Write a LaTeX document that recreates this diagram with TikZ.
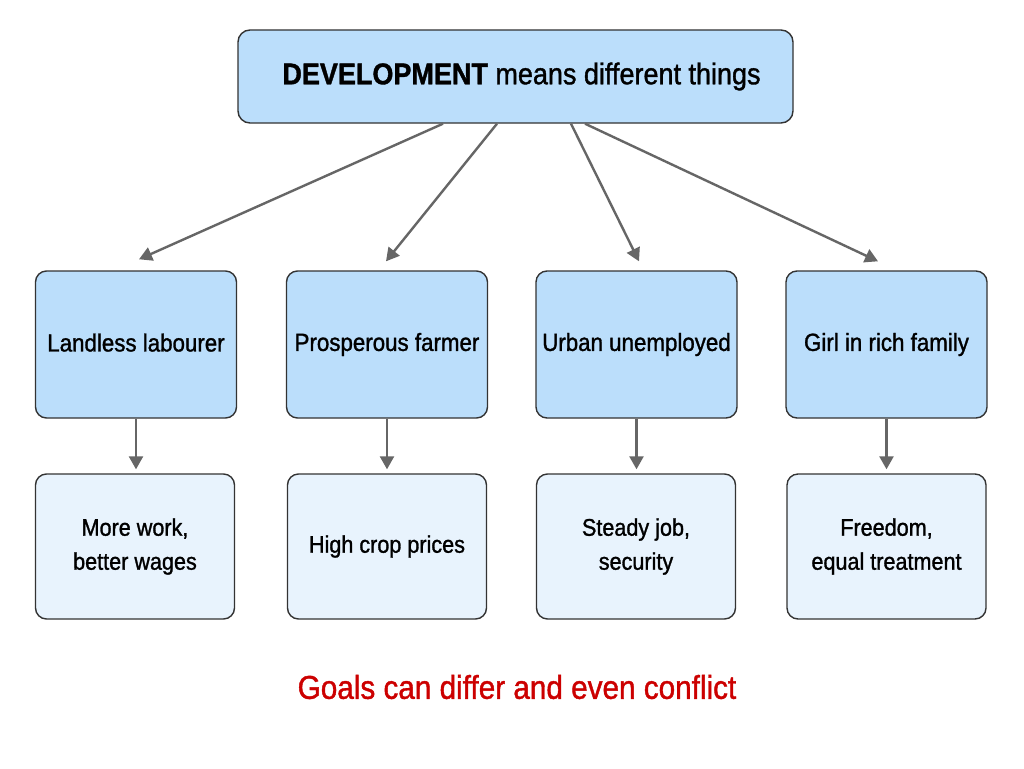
\documentclass[tikz,border=0pt]{standalone}
\usepackage{fontspec}
\setmainfont[FakeStretch=0.9,FakeBold=1.2]{Liberation Sans}
\usepackage{tikz}
\usetikzlibrary{arrows.meta,positioning,calc}
\definecolor{topblue}{HTML}{BBDEFB}
\definecolor{lowblue}{HTML}{E8F3FD}
\definecolor{edgegray}{HTML}{333333}
\definecolor{arrgray}{HTML}{666666}
\definecolor{goalred}{HTML}{CC0000}
\tikzset{
  headbox/.style={draw=edgegray,line width=1.4pt,fill=topblue,rounded corners=12pt,minimum width=555pt,minimum height=93pt,font=\fontsize{30}{36}\selectfont},
  groupbox/.style={draw=edgegray,line width=1.4pt,fill=topblue,rounded corners=11pt,minimum width=201pt,minimum height=147pt,font=\fontsize{24.8}{30}\selectfont},
  wishbox/.style={draw=edgegray,line width=1.4pt,fill=lowblue,rounded corners=11pt,minimum width=199pt,minimum height=145pt,align=center,font=\fontsize{24}{34}\selectfont},
  link/.style={draw=arrgray,line width=2.4pt,-{Triangle[length=13pt,width=14pt]}}
}
\begin{document}
\begin{tikzpicture}[x=1pt,y=-1pt]
\useasboundingbox[fill=white] (0,0) rectangle (1024,768);
\node[headbox] (dev) at (515.5,76.5) {\hspace*{12pt}\textbf{DEVELOPMENT} means different things};
\node[groupbox] (g1) at (136,344.5) {\raisebox{4pt}{Landless labourer}};
\node[groupbox] (g2) at (387,344.5) {\raisebox{4pt}{Prosperous farmer}};
\node[groupbox] (g3) at (636.5,344.5) {\raisebox{4pt}{Urban unemployed}};
\node[groupbox] (g4) at (886.5,344.5) {\raisebox{4pt}{Girl in rich family}};
\node[wishbox] (w1) at (135,546.5) {More work,\\better wages};
\node[wishbox] (w2) at (387,546.5) {High crop prices};
\node[wishbox] (w3) at (636,546.5) {Steady job,\\security};
\node[wishbox] (w4) at (886.5,546.5) {Freedom,\\equal treatment};
\node[text=goalred,font=\fontsize{33}{38}\selectfont] (goal) at (517,687) {Goals can differ and even conflict};
\draw[link] ([xshift=-72.5pt]dev.south) -- ([xshift=3pt,yshift=11pt]g1.north);
\draw[link] ([xshift=-18.5pt]dev.south) -- ([xshift=-1pt,yshift=9pt]g2.north);
\draw[link] ([xshift=55.5pt]dev.south) -- ([xshift=2.5pt,yshift=9pt]g3.north);
\draw[link] ([xshift=69.5pt]dev.south) -- ([xshift=-8.5pt,yshift=9pt]g4.north);
\foreach \i in {1,...,4}
  \draw[link] (g\i.south) -- ([yshift=4pt]g\i.south |- w\i.north);
\end{tikzpicture}
\end{document}
